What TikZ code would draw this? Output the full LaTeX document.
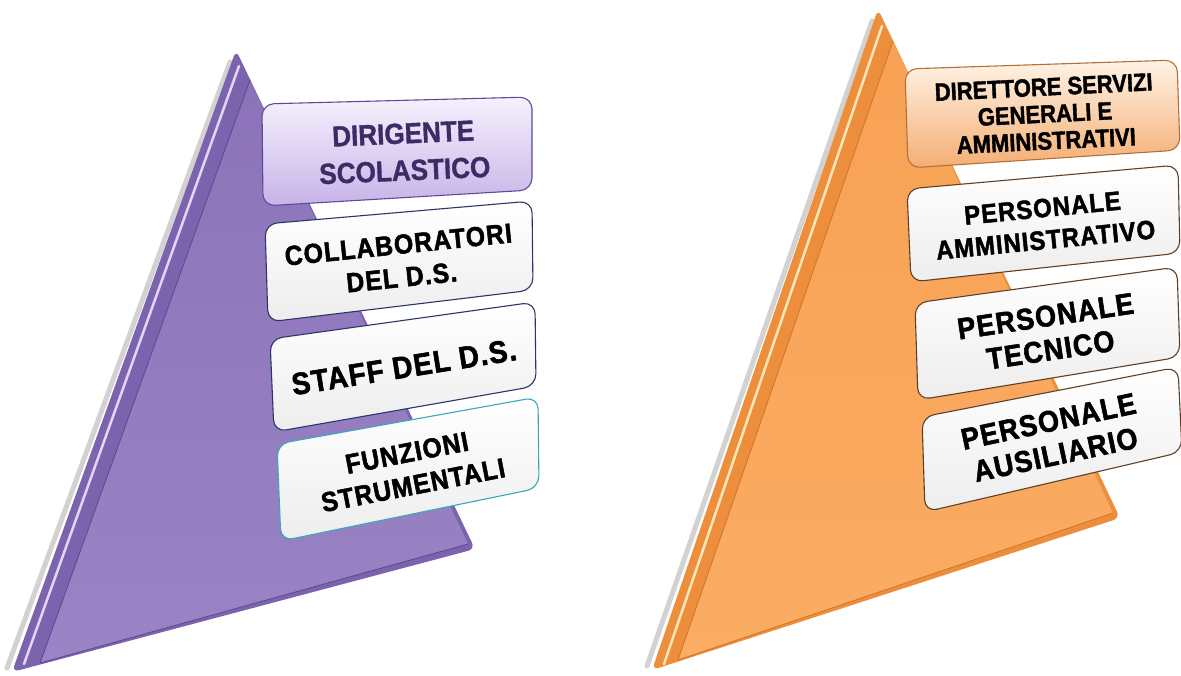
\documentclass[tikz,border=0pt]{standalone}
\usepackage{fontspec}
\setmainfont{Liberation Sans}
\newfontfamily\boxfont[FakeBold=1.8,FakeStretch=0.9,LetterSpace=4]{Liberation Sans}
\newfontfamily\headfont[FakeBold=1.2,FakeStretch=0.9]{Liberation Sans}
\newfontfamily\narrowfont[FakeStretch=0.88,FakeBold=1.5]{Liberation Sans}
\definecolor{pside}{HTML}{7C63AE}
\definecolor{pface}{HTML}{8C73B9}
\definecolor{pfaceb}{HTML}{9A84C5}
\definecolor{pdark}{HTML}{5C4890}
\definecolor{plight}{HTML}{E2D6F8}
\definecolor{oside}{HTML}{EC8E3C}
\definecolor{oface}{HTML}{F7A154}
\definecolor{ofaceb}{HTML}{FBAD64}
\definecolor{odark}{HTML}{CF7426}
\definecolor{olight}{HTML}{FFE6B8}
\definecolor{navyb}{HTML}{2B3566}
\definecolor{tealb}{HTML}{3AA8B8}
\definecolor{brownb}{HTML}{5E4028}
\definecolor{lavtop}{HTML}{F6F1FD}
\definecolor{lavbot}{HTML}{C7B3E8}
\definecolor{lavborder}{HTML}{5C4C96}
\definecolor{lavtext}{HTML}{3D2B66}
\definecolor{peachtop}{HTML}{FFF3E6}
\definecolor{peachbot}{HTML}{F4AE72}
\definecolor{peachborder}{HTML}{B27038}
\begin{document}
\begin{tikzpicture}[x=1pt,y=-1pt,
  wbox/.style={rounded corners=12pt, line width=1.1pt, top color=white, bottom color=black!7},
  pnavy/.style={wbox, draw=navyb},
  pteal/.style={wbox, draw=tealb},
  obrown/.style={wbox, draw=brownb},
  lavbox/.style={rounded corners=12pt, line width=1.1pt, draw=lavborder, top color=lavtop, bottom color=lavbot},
  peachbox/.style={rounded corners=12pt, line width=1.1pt, draw=peachborder, top color=peachtop, bottom color=peachbot},
  txt/.style={align=center, inner sep=0pt, text=black},
  tamm/.style={txt, font={\boxfont\bfseries\fontsize{26.5}{32}\selectfont}},
  tcoll/.style={txt, font={\boxfont\bfseries\fontsize{27.5}{33}\selectfont}},
  tstaff/.style={txt, font={\boxfont\bfseries\fontsize{31}{34}\selectfont}},
  tpers/.style={txt, font={\boxfont\bfseries\fontsize{30}{34}\selectfont}},
  thead/.style={txt, font={\headfont\bfseries\fontsize{29}{37}\selectfont}},
  tnarrow/.style={txt, font={\narrowfont\bfseries\fontsize{25}{27}\selectfont}}
]
\useasboundingbox (0,0) rectangle (1181,675);
\fill[white] (0,0) rectangle (1181,675);

% ---------- purple triangle ----------
\coordinate (pA) at (236,50);
\coordinate (pL) at (12,672);
\coordinate (pR) at (475,549);
\coordinate (pfA) at (250,80);
\coordinate (pfL) at (40,663);
\coordinate (pfR) at (468,544);
\draw[black!35, opacity=0.5, line width=5pt, line cap=round] (230,62) -- (7,668);
\fill[pside, rounded corners=7pt] (pA) -- (pL) -- (pR) -- cycle;
\draw[plight, line width=2.5pt, line cap=round] (239,66) -- (24,664);
\path[top color=pface, bottom color=pfaceb] (pfA) -- (pfL) -- (pfR) -- cycle;
\draw[pdark, line width=0.8pt] (pfA) -- (pfL) -- (pfR);

% ---------- orange triangle ----------
\coordinate (oA) at (878,9);
\coordinate (oL) at (652,670);
\coordinate (oR) at (1120,518);
\coordinate (ofA) at (893,41);
\coordinate (ofL) at (678,660);
\coordinate (ofR) at (1113,513);
\draw[black!35, opacity=0.5, line width=5pt, line cap=round] (872,21) -- (647,666);
\fill[oside, rounded corners=7pt] (oA) -- (oL) -- (oR) -- cycle;
\draw[olight, line width=2.5pt, line cap=round] (882,26) -- (664,664);
\path[top color=oface, bottom color=ofaceb] (ofA) -- (ofL) -- (ofR) -- cycle;
\draw[odark, line width=0.8pt] (ofA) -- (ofL) -- (ofR);

% ---------- purple boxes ----------
\path[lavbox] (262,104) -- (532,97) -- (532,190) -- (263,206) -- cycle;
\node[thead, text=lavtext, rotate=2.5] (dir) at (404,152) {DIRIGENTE\\SCOLASTICO};

\path[pnavy] (265,224) -- (532,201) -- (533,290) -- (268,322) -- cycle;
\node[tcoll, rotate=5.9] (coll) at (400,261) {COLLABORATORI\\DEL D.S.};

\path[pnavy] (270,339) -- (535,302) -- (536,386) -- (274,432) -- cycle;
\node[tstaff, rotate=9] (staff) at (404,367) {STAFF DEL D.S.};

\path[pteal] (277,444) -- (538,397) -- (539,488) -- (281,541) -- cycle;
\node[tcoll, rotate=11] (funz) at (410,469) {FUNZIONI\\STRUMENTALI};

% ---------- orange boxes ----------
\path[peachbox] (905,69) -- (1177,60) -- (1180,150) -- (908,168) -- cycle;
\node[tnarrow, rotate=2.8] (dsga) at (1045,114) {DIRETTORE SERVIZI\\GENERALI E\\AMMINISTRATIVI};

\path[obrown] (907,189) -- (1178,165) -- (1180,253) -- (911,282) -- cycle;
\node[tamm, rotate=5.6] (amm) at (1044,224) {PERSONALE\\AMMINISTRATIVO};

\path[obrown] (915,303) -- (1177,267) -- (1180,357) -- (918,400) -- cycle;
\node[tpers, rotate=8.5] (tec) at (1048,333) {PERSONALE\\TECNICO};

\path[obrown] (922,417) -- (1178,367) -- (1182,452) -- (925,512) -- cycle;
\node[tpers, rotate=12] (aus) at (1052,438) {PERSONALE\\AUSILIARIO};
\end{tikzpicture}
\end{document}
